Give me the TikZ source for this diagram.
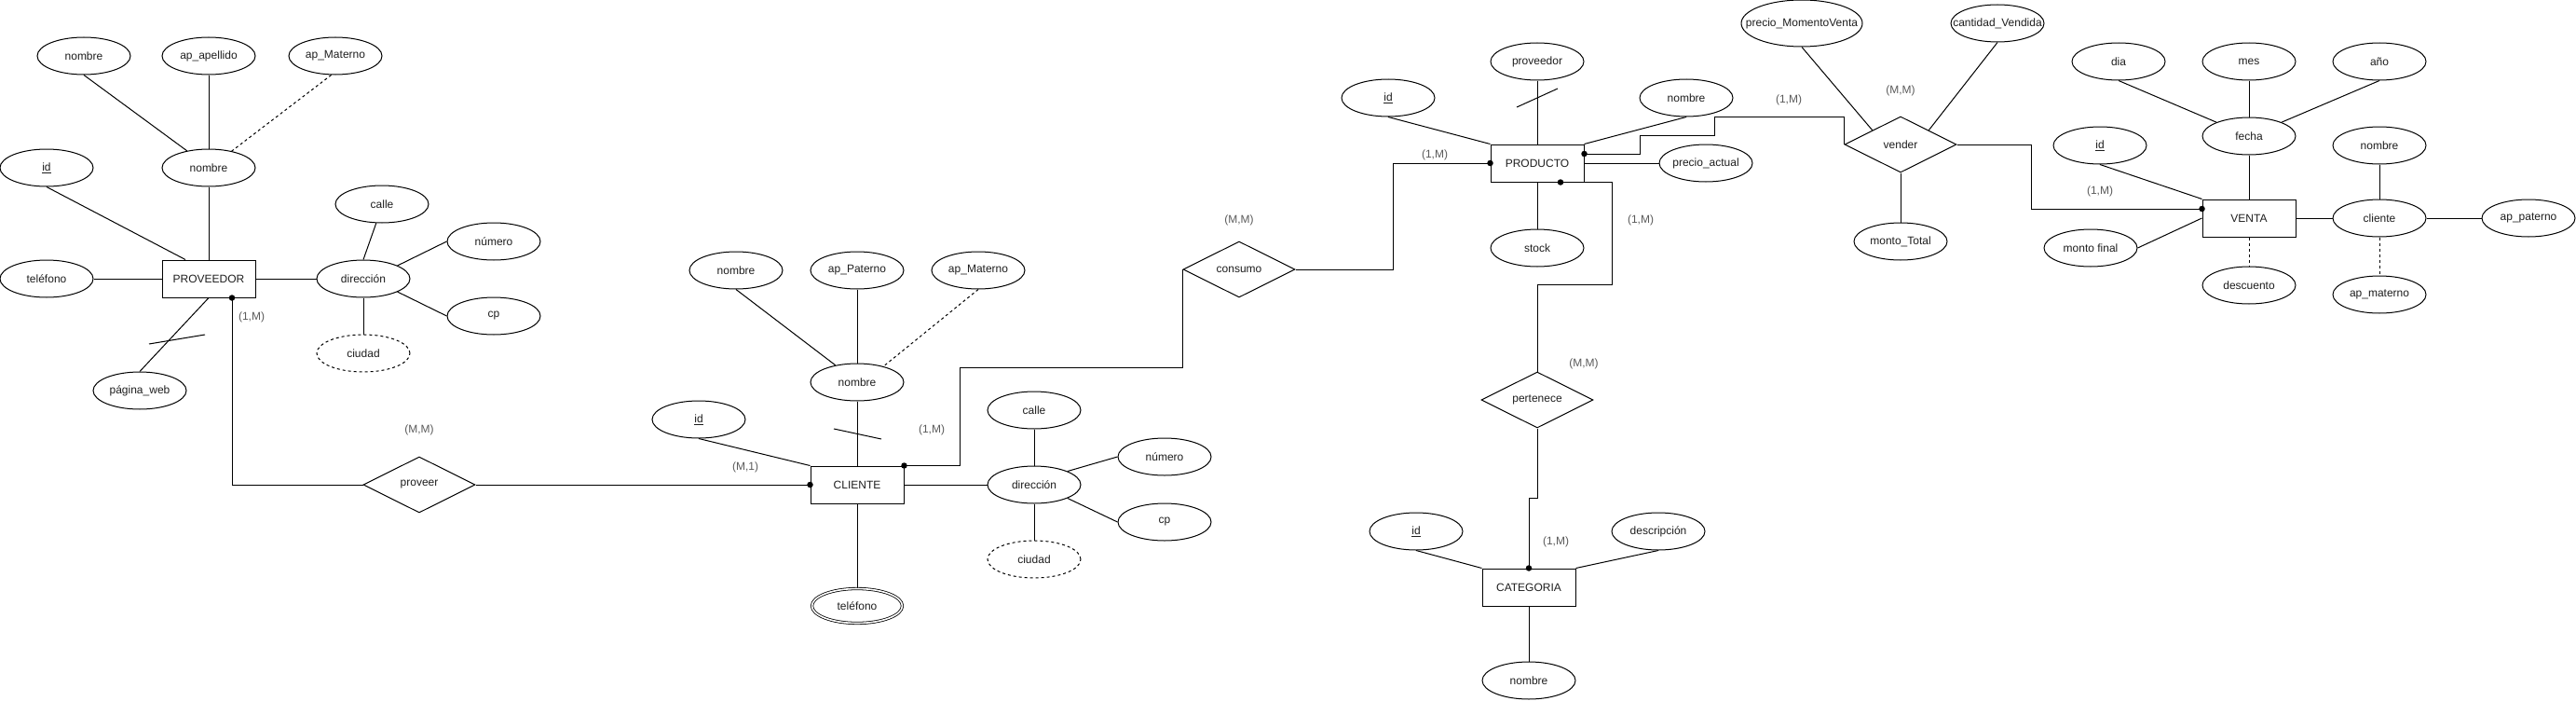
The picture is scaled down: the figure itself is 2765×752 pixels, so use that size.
\documentclass[tikz,border=0pt]{standalone}
\usepackage{fontspec}
\setmainfont{Liberation Sans}
\usetikzlibrary{shapes.geometric,calc}
\definecolor{lblgray}{RGB}{90,90,90}
\definecolor{txtblack}{RGB}{30,30,30}
\newcommand\zw[1]{\makebox[0pt]{#1}}
\begin{document}
\begin{tikzpicture}[x=1pt,y=-1pt,line width=1pt,
  every node/.style={font=\fontsize{12}{14}\selectfont,text=txtblack},
  attr/.style={ellipse,draw,minimum width=100pt,minimum height=40pt,inner sep=0pt},
  ent/.style={rectangle,draw,minimum width=100pt,minimum height=40pt,inner sep=0pt},
  rel/.style={diamond,draw,aspect=2,minimum width=120pt,minimum height=60pt,inner sep=0pt},
  lbl/.style={text=lblgray,inner sep=0pt},
  dot/.style={circle,fill=black,draw=none,inner sep=0pt,minimum size=6.5pt},
  dsh/.style={dash pattern=on 3pt off 3pt},
  multi/.style={attr,double,line width=0.8pt,double distance=1.6pt,minimum width=97pt,minimum height=37pt}]
\useasboundingbox (0,0) rectangle (2765,752);

% ---------------- PROVEEDOR ----------------
\node[attr] (pnom1) at (90,60) {\zw{nombre}};
\node[attr] (pap) at (224,60) {\zw{ap\_apellido}};
\node[attr] (pmat) at (360,60) {\zw{ap\_Materno}};
\node[attr] (pid) at (50,180) {\zw{\underline{id}}};
\node[attr] (pnom) at (224,180) {\zw{nombre}};
\node[ent] (pv) at (224,299) {PROVEEDOR};
\node[attr] (ptel) at (50,299) {\zw{teléfono}};
\node[attr] (pdir) at (390,299) {\zw{dirección}};
\node[attr] (pcal) at (410,219) {\zw{calle}};
\node[attr] (pnum) at (530,259) {\zw{número}};
\node[attr] (pcp) at (530,339) {\zw{cp}};
\node[attr,dsh] (pciu) at (390,379) {\zw{ciudad}};
\node[attr] (pweb) at (150,419) {\zw{página\_web}};

\draw (pnom1.south) -- (pnom.142);
\draw (pap.south) -- (pnom.north);
\draw[dsh] (pmat.258) -- (pnom.36);
\draw (pnom.south) -- (pv.north);
\draw (pid.south) -- ([xshift=-25pt]pv.north);
\draw (ptel.east) -- (pv.west);
\draw (pv.east) -- (pdir.west);
\draw (pcal.253) -- (pdir.north);
\draw (pnum.west) -- (pdir.21);
\draw (pcp.west) -- (pdir.-21);
\draw (pdir.south) -- (pciu.north);
\draw (pv.south) -- (pweb.north);
\draw (160,369) -- (220,359);

% ---------------- proveer ----------------
\node[rel] (prov) at (450,520) {\zw{proveer}};
\node[lbl] (l1) at (270,340) {(1,M)};
\node[lbl] (l2) at (450,461) {(M,M)};
\node[dot] (d1) at ([xshift=25pt]pv.south) {};
\draw (d1.center) |- (prov.west);

% ---------------- CLIENTE ----------------
\node[attr] (cnom1) at (790,290) {\zw{nombre}};
\node[attr] (cap) at (920,290) {\zw{ap\_Paterno}};
\node[attr] (cmat) at (1050,290) {\zw{ap\_Materno}};
\node[attr] (cnom) at (920,410) {\zw{nombre}};
\node[attr] (cid) at (750,450) {\zw{\underline{id}}};
\node[ent] (cl) at (920,520) {CLIENTE};
\node[attr] (cdir) at (1110,520) {\zw{dirección}};
\node[attr] (ccal) at (1110,440) {\zw{calle}};
\node[attr] (cnum) at (1250,490) {\zw{número}};
\node[attr] (ccp) at (1250,560) {\zw{cp}};
\node[attr,dsh] (cciu) at (1110,600) {\zw{ciudad}};
\node[multi] (ctel) at (920,650) {\zw{teléfono}};

\draw (cnom1.south) -- (cnom.142);
\draw (cap.south) -- (cnom.north);
\draw[dsh] (cmat.south) -- (cnom.31);
\draw (cnom.south) -- (cl.north);
\draw (895,460) -- (946,471);
\draw (cid.south) -- (cl.north west);
\draw (cl.east) -- (cdir.west);
\draw (ccal.south) -- (cdir.north);
\draw (cnum.west) -- (cdir.22);
\draw (ccp.west) -- (cdir.-22);
\draw (cdir.south) -- (cciu.north);
\draw (cl.south) -- (ctel.north);

\node[dot] (d2) at (cl.west) {};
\draw (prov.east) -- (d2.center);
\node[lbl] (l3) at (800,501) {(M,1)};
\node[lbl] (l4) at (1000,461) {(1,M)};

% ---------------- consumo ----------------
\node[rel] (cons) at (1330,289) {\zw{consumo}};
\node[lbl] (l5) at (1330,236) {(M,M)};
\node[dot] (d3) at (cl.north east) {};
\draw (d3.center) -- ++(60,0) -- ++(0,-105) -| (cons.west);

% ---------------- PRODUCTO ----------------
\node[ent] (pr) at (1650,175) {PRODUCTO};
\node[attr] (rid) at (1490,105) {\zw{\underline{id}}};
\node[attr] (rprov) at (1650,66) {\zw{proveedor}};
\node[attr] (rnom) at (1810,105) {\zw{nombre}};
\node[attr] (rpa) at (1831,175) {\zw{precio\_actual}};
\node[attr] (rst) at (1650,266) {\zw{stock}};

\draw (rid.south) -- (pr.north west);
\draw (rprov.south) -- (pr.north);
\draw (1628,115) -- (1672,95);
\draw (rnom.south) -- (pr.north east);
\draw (pr.east) -- (rpa.west);
\draw (pr.south) -- (rst.north);

\node[dot] (d4) at (pr.west) {};
\draw (cons.east) -- ++(105,0) |- (d4.center);
\node[lbl] (l6) at (1540,166) {(1,M)};

% ---------------- vender ----------------
\node[rel] (vend) at (2040,155) {\zw{vender}};
\node[attr,minimum width=130pt,minimum height=50pt] (vpm) at (1934,25) {\zw{precio\_MomentoVenta}};
\node[attr] (vcant) at (2144,25) {\zw{cantidad\_Vendida}};
\node[attr] (vmt) at (2040,259) {\zw{monto\_Total}};
\draw (vpm.south) -- ($(vend.north)!0.5!(vend.west)$);
\draw (vcant.south) -- ($(vend.north)!0.5!(vend.east)$);
\draw (vend.south) -- (vmt.north);
\node[lbl] (l7) at (1920,107) {(1,M)};
\node[lbl] (l8) at (2040,97) {(M,M)};
\node[dot] (d5) at ([yshift=10pt]pr.east) {};
\draw (d5.center) -- ++(60,0) -- ++(0,-20) -- ++(80,0) -- ++(0,-20) -| (vend.west);

% ---------------- pertenece / CATEGORIA ----------------
\node[rel] (pert) at (1650,429) {\zw{pertenece}};
\node[lbl] (l9) at (1761,236) {(1,M)};
\node[lbl] (l10) at (1700,390) {(M,M)};
\node[dot] (d6) at ([xshift=25pt]pr.south) {};
\draw (d6.center) -- ++(55,0) -- ++(0,110) -| (pert.north);

\node[ent] (cat) at (1641,630) {CATEGORIA};
\node[attr] (kid) at (1520,570) {\zw{\underline{id}}};
\node[attr] (kdes) at (1780,570) {\zw{descripción}};
\node[attr] (knom) at (1641,730) {\zw{nombre}};
\draw (kid.south) -- (cat.north west);
\draw (kdes.south) -- (cat.north east);
\draw (cat.south) -- (knom.north);
\node[dot] (d7) at (cat.north) {};
\draw (pert.south) -- ++(0,75) -| (d7.center);
\node[lbl] (l11) at (1670,581) {(1,M)};

% ---------------- VENTA ----------------
\node[ent] (ve) at (2414,234) {VENTA};
\node[attr] (vdia) at (2274,66) {\zw{dia}};
\node[attr] (vmes) at (2414,66) {\zw{mes}};
\node[attr] (vano) at (2554,66) {\zw{año}};
\node[attr] (vfec) at (2414,146) {\zw{fecha}};
\node[attr] (vid) at (2254,156) {\zw{\underline{id}}};
\node[attr] (vnom) at (2554,156) {\zw{nombre}};
\node[attr] (vcl) at (2554,234) {\zw{cliente}};
\node[attr] (vap) at (2714,234) {\zw{ap\_paterno}};
\node[attr] (vmf) at (2244,266) {\zw{monto final}};
\node[attr] (vdes) at (2414,306) {\zw{descuento}};
\node[attr] (vmat) at (2554,316) {\zw{ap\_materno}};

\draw (vdia.south) -- (vfec.157);
\draw (vmes.south) -- (vfec.north);
\draw (vano.south) -- (vfec.23);
\draw (vfec.south) -- (ve.north);
\draw (vid.south) -- (ve.north west);
\draw (vmf.east) -- (ve.west);
\draw[dsh] (ve.south) -- (vdes.north);
\draw (ve.east) -- (vcl.west);
\draw (vnom.south) -- (vcl.north);
\draw (vcl.east) -- (vap.west);
\draw[dsh] (vcl.south) -- (vmat.north);

\node[dot] (d8) at ([yshift=10pt]ve.west) {};
\draw (vend.east) -- ++(80,0) |- (d8.center);
\node[lbl] (l12) at (2254,205) {(1,M)};
\end{tikzpicture}
\end{document}
